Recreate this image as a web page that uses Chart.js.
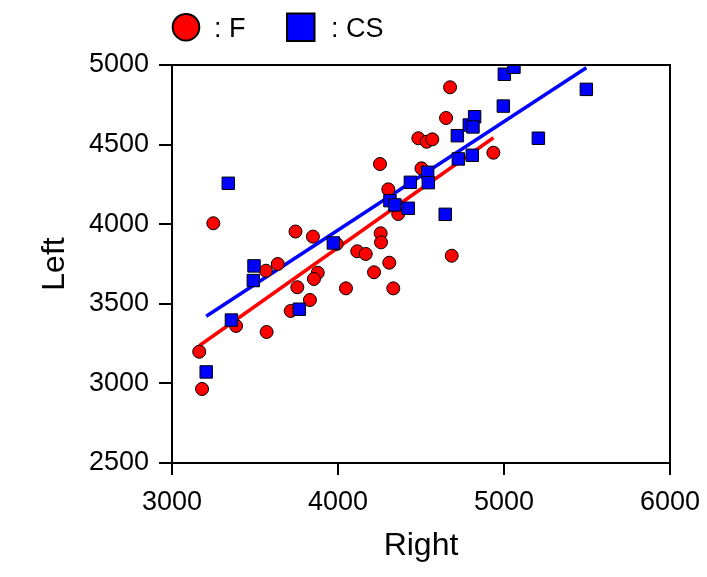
<!DOCTYPE html>
<html>
<head>
<meta charset="utf-8">
<script src="https://cdn.jsdelivr.net/npm/chart.js@4.4.0/dist/chart.umd.min.js"></script>
<style>
html,body{margin:0;padding:0;background:#fff;}
#wrap{width:707px;height:577px;position:relative;}
</style>
</head>
<body>
<div id="wrap"><canvas id="c" width="707" height="577"></canvas></div>
<script>
// ---- data ----
const seriesNames = [': F', ': CS'];
const fRight = [3164,3181,3249,3386,3570,3566,3637,3744,3849,3755,3715,3831,3878,3855,3992,4116,4167,4217,4309,4048,4333,4257,4259,4253,4303,4363,4484,4534,4568,4503,4675,4651,4936,4685];
const fLeft  = [3199,2965,4006,3361,3323,3708,3750,3954,3922,3604,3455,3524,3695,3656,3876,3830,3813,3698,3758,3597,3597,3943,3886,4378,4219,4064,4540,4518,4533,4351,4860,4667,4449,3802];
const csRight = [3206,3339,3358,3494,3490,3767,3972,4313,4343,4423,4436,4540,4544,4646,4719,4725,4809,4791,4823,4813,4996,5002,5060,5207,5496];
const csLeft  = [3072,4257,3398,3738,3646,3466,3882,4148,4121,4100,4263,4326,4261,4062,4556,4410,4433,4623,4675,4611,4742,4942,4986,4540,4847];
const xTicks = [3000,4000,5000,6000];
const yTicks = [2500,3000,3500,4000,4500,5000];
const xTitle = 'Right';
const yTitle = 'Left';

// ---- helpers ----
function pts(xs, ys){ return xs.map((x,i)=>({x:x, y:ys[i]})); }
function fitLine(xs, ys){
  const n = xs.length;
  const mx = xs.reduce((a,b)=>a+b,0)/n;
  const my = ys.reduce((a,b)=>a+b,0)/n;
  let sxx=0, sxy=0;
  for(let i=0;i<n;i++){ sxx+=(xs[i]-mx)*(xs[i]-mx); sxy+=(xs[i]-mx)*(ys[i]-my); }
  const b = sxy/sxx, a = my - b*mx;
  const x0 = Math.min(...xs), x1 = Math.max(...xs);
  return [{x:x0, y:a+b*x0},{x:x1, y:a+b*x1}];
}

const FONT = '"Liberation Sans", Arial, Helvetica, sans-serif';
const RED = '#ff0000', BLUE = '#0000ff';

const framePlugin = {
  id:'frameLegend',
  afterDraw(chart){
    const ctx = chart.ctx, ca = chart.chartArea;
    ctx.save();
    ctx.strokeStyle = '#000';
    ctx.lineWidth = 2;
    ctx.strokeRect(ca.left, ca.top, ca.right - ca.left, ca.bottom - ca.top);
    // legend
    ctx.lineWidth = 2;
    ctx.beginPath();
    ctx.arc(186, 27.2, 13.3, 0, Math.PI*2);
    ctx.fillStyle = RED; ctx.fill(); ctx.stroke();
    ctx.beginPath();
    ctx.rect(287, 13.5, 27.5, 27.5);
    ctx.fillStyle = BLUE; ctx.fill(); ctx.stroke();
    ctx.fillStyle = '#000';
    ctx.font = '27px ' + FONT;
    ctx.textBaseline = 'alphabetic';
    ctx.textAlign = 'left';
    ctx.fillText(seriesNames[0], 214, 37.3);
    ctx.fillText(seriesNames[1], 331, 37.3);
    ctx.restore();
  }
};

new Chart(document.getElementById('c'), {
  type:'scatter',
  data:{
    datasets:[
      {label:seriesNames[1], data:pts(csRight, csLeft), pointStyle:'rect', pointRadius:8.8, pointHoverRadius:8.8,
       backgroundColor:BLUE, borderColor:'#000', borderWidth:1, order:0},
      {label:seriesNames[0], data:pts(fRight, fLeft), pointStyle:'circle', pointRadius:6.5, pointHoverRadius:6.5,
       backgroundColor:RED, borderColor:'#000', borderWidth:1, order:1},
      {label:'fit CS', data:fitLine(csRight, csLeft), showLine:true, pointRadius:0, borderColor:BLUE, borderWidth:3.5,
       backgroundColor:BLUE, order:2},
      {label:'fit F', data:fitLine(fRight, fLeft), showLine:true, pointRadius:0, borderColor:RED, borderWidth:3.5,
       backgroundColor:RED, order:3}
    ]
  },
  options:{
    responsive:false,
    animation:false,
    devicePixelRatio:1,
    layout:{padding:{left:20, right:37, top:65, bottom:0}},
    plugins:{legend:{display:false}, tooltip:{enabled:false}},
    scales:{
      x:{
        type:'linear', min:3000, max:6000,
        afterBuildTicks:(s)=>{ s.ticks = xTicks.map(v=>({value:v})); },
        ticks:{font:{family:FONT, size:27}, color:'#000', padding:11, autoSkip:false, maxRotation:0,
               callback:(v)=>String(v)},
        grid:{display:true, drawOnChartArea:false, drawTicks:true, tickLength:12, color:'#000', lineWidth:2},
        border:{display:true, color:'#000', width:2},
        title:{display:true, text:xTitle, font:{family:FONT, size:32}, color:'#000', padding:{top:0, bottom:12}},
        afterFit:(s)=>{ s.height = 114; s.paddingLeft = 0; s.paddingRight = 0; }
      },
      y:{
        type:'linear', min:2500, max:5000,
        afterBuildTicks:(s)=>{ s.ticks = yTicks.map(v=>({value:v})); },
        ticks:{font:{family:FONT, size:27}, color:'#000', padding:10, autoSkip:false,
               callback:(v)=>String(v)},
        grid:{display:true, drawOnChartArea:false, drawTicks:true, tickLength:13, color:'#000', lineWidth:2},
        border:{display:true, color:'#000', width:2},
        title:{display:true, text:yTitle, font:{family:FONT, size:32}, color:'#000', padding:{top:16, bottom:0}},
        afterFit:(s)=>{ s.width = 152; s.paddingTop = 0; s.paddingBottom = 0; }
      }
    }
  },
  plugins:[framePlugin]
});
</script>
</body>
</html>
